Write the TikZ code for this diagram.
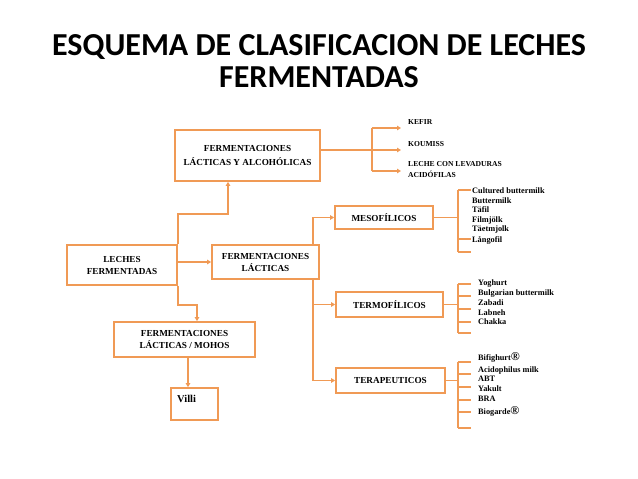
\documentclass[tikz,border=0pt]{standalone}
\usepackage{fontspec}
\setmainfont{Liberation Serif}
\newfontfamily\titlefont{Carlito}
\usetikzlibrary{arrows.meta}
\definecolor{org}{HTML}{F09A55}
\begin{document}
\begin{tikzpicture}[x=1pt,y=-1pt,
  box/.style={draw=org, line width=1.7pt, inner sep=0pt, font=\fontsize{9.2}{12}\selectfont\bfseries, align=center},
  ln/.style={draw=org, line width=1.4pt},
  arr/.style={ln, -{Triangle[length=4pt,width=4.5pt]}},
  item/.style={anchor=base west, inner sep=0pt, font=\fontsize{7.6}{9}\selectfont\bfseries},
  litem/.style={item, font=\fontsize{8.3}{9}\selectfont\bfseries},
  ttl/.style={anchor=base, inner sep=0pt, font=\titlefont\fontsize{32}{32}\selectfont\bfseries}]
\useasboundingbox (0,0) rectangle (638,479);
% title
\node[ttl] (t1) at (319,55) {ESQUEMA DE CLASIFICACION DE LECHES};
\node[ttl] (t2) at (319,87) {FERMENTADAS};
% boxes
\node[box, minimum width=145, minimum height=51] (fla) at (247.5,155.5) {FERMENTACIONES\\[2pt]LÁCTICAS Y ALCOHÓLICAS};
\node[box, minimum width=110, minimum height=40] (lf) at (122,265) {LECHES\\FERMENTADAS};
\node[box, minimum width=107, minimum height=34] (fl) at (265.5,262) {FERMENTACIONES\\LÁCTICAS};
\node[box, minimum width=141, minimum height=35] (mo) at (184.5,339.5) {FERMENTACIONES\\LÁCTICAS / MOHOS};
\node[box, minimum width=47, minimum height=32] (vi) at (194.5,404) {};
\node[item, font=\fontsize{10.5}{12}\selectfont\bfseries] (vit) at (177,402) {Villi};
\node[box, minimum width=98, minimum height=23] (me) at (384,217.5) {MESOFÍLICOS};
\node[box, minimum width=107, minimum height=25] (te) at (389.5,304.5) {TERMOFÍLICOS};
\node[box, minimum width=109, minimum height=25] (tp) at (390.5,380.5) {TERAPEUTICOS};
% left connectors
\draw[arr] (fl.west -| lf.east) -- (fl.west);
\draw[arr] (lf.north east) -- ++(0,-30) -| ([xshift=-19.5pt]fla.south);
\draw[arr] (lf.south east) -- ++(0,19) -| ([xshift=12.5pt]mo.north);
\draw[arr] ([xshift=3.5pt]mo.south) -- ([xshift=3.5pt]mo.south |- vi.north);
% from FERMENTACIONES LACTICAS
\draw[arr] ([xshift=-7pt]fl.north east) |- (me.west);
\draw[arr] ([xshift=-7pt]fl.south east) |- (te.west);
\draw[arr] ([xshift=-7pt]fl.south east) |- (tp.west);
% alcoholic group
\coordinate (j1) at (372,150);
\coordinate (kt) at (372,128);
\coordinate (kb) at (372,171);
\coordinate (ke) at (401,128);
\coordinate (ko) at (401,150);
\coordinate (kl) at (401,171);
\draw[ln] (fla.east |- j1) -- (j1);
\draw[ln] (kt) -- (kb);
\draw[arr] (kt) -- (ke);
\draw[arr] (j1) -- (ko);
\draw[arr] (kb) -- (kl);
\node[item] (kef) at (408,124) {KEFIR};
\node[item] (kou) at (408,146) {KOUMISS};
\node[item] (lev) at (408,166) {LECHE CON LEVADURAS};
\node[item] (aci) at (408,177) {ACIDÓFILAS};
% mesofilicos bracket
\coordinate (ma) at (458,190);
\coordinate (mb) at (458,252);
\draw[ln] (me.east) -- (me.east -| ma);
\draw[ln] (ma) -- (mb);
\foreach \y in {190,239,252} \draw[ln] (458,\y) -- (471,\y);
\node[litem] (m1) at (472,193) {Cultured buttermilk};
\node[litem] (m2) at (472,203) {Buttermilk};
\node[litem] (m3) at (472,212.5) {Täfil};
\node[litem] (m4) at (472,222) {Filmjölk};
\node[litem] (m5) at (472,231.5) {Täetmjolk};
\node[litem] (m6) at (472,242) {Långofil};
% termofilicos bracket
\coordinate (ta) at (458,284);
\coordinate (tb) at (458,333);
\draw[ln] (te.east) -- (te.east -| ta);
\draw[ln] (ta) -- (tb);
\foreach \y in {284,296,309,322,333} \draw[ln] (458,\y) -- (471,\y);
\node[litem] (y1) at (478,285) {Yoghurt};
\node[litem] (y2) at (478,295.5) {Bulgarian buttermilk};
\node[litem] (y3) at (478,305) {Zabadi};
\node[litem] (y4) at (478,315) {Labneh};
\node[litem] (y5) at (478,324) {Chakka};
% terapeuticos bracket
\coordinate (pa) at (458,362);
\coordinate (pb) at (458,428);
\draw[ln] (tp.east) -- (tp.east -| pa);
\draw[ln] (pa) -- (pb);
\foreach \y in {362,374,387,400,412,428} \draw[ln] (458,\y) -- (471,\y);
\node[litem] (p1) at (478,360) {Bifighurt{\fontsize{12}{12}\selectfont ®}};
\node[litem] (p2) at (478,372) {Acidophilus milk};
\node[litem] (p3) at (478,381.5) {ABT};
\node[litem] (p4) at (478,391) {Yakult};
\node[litem] (p5) at (478,401) {BRA};
\node[litem] (p6) at (478,414) {Biogarde{\fontsize{12}{12}\selectfont ®}};
\end{tikzpicture}
\end{document}
